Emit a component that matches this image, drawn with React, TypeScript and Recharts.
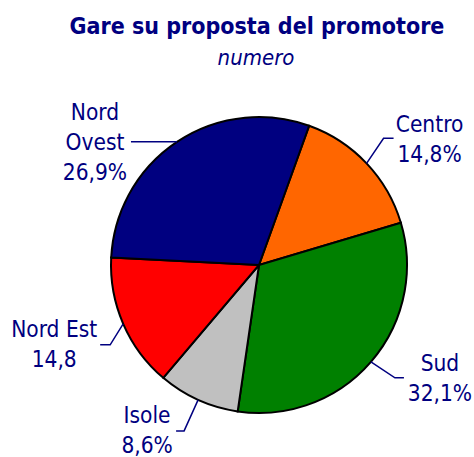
import { PieChart, Pie, Cell } from 'recharts'

// ── Data ─────────────────────────────────────────────────
const REGIONI = ['Centro', 'Sud', 'Isole', 'Nord Est', 'Nord Ovest']
const QUOTE = [14.9, 31.9, 8.9, 14.6, 29.7]
const ETICHETTE = ['14,8%', '32,1%', '8,6%', '14,8', '26,9%']

const COLORS = ['#ff6600', '#008000', '#c0c0c0', '#ff0000', '#000080']
const NAVY = '#000080'
const FONT = '"DejaVu Sans Condensed", "DejaVu Sans", sans-serif'

// label layout: elbow offset from slice edge, horizontal tail, text offset from edge
const LAYOUT: Record<string, { ex: number; ey: number; hx: number; tx: number; ty: number; lines?: string[] }> = {
  'Centro':     { ex: 17,  ey: -25, hx: 10,  tx: 63,  ty: -31 },
  'Sud':        { ex: 24,  ey: 16,  hx: 9,   tx: 69,  ty: 9 },
  'Isole':      { ex: -14, ey: 31,  hx: -8,  tx: -51, ty: 23 },
  'Nord Est':   { ex: -13, ey: 21,  hx: -10, tx: -69, ty: 13 },
  'Nord Ovest': { ex: 0,   ey: 0,   hx: -46, tx: -82, ty: -22, lines: ['Nord', 'Ovest'] },
}

const data = REGIONI.map((r, i) => ({ name: r, value: QUOTE[i], label: ETICHETTE[i] }))

const RAD = Math.PI / 180

function renderLabel(props: any) {
  const { cx, cy, midAngle, outerRadius, index } = props
  const d = data[index]
  const L = LAYOUT[d.name]
  const x0 = cx + outerRadius * Math.cos(-midAngle * RAD)
  const y0 = cy + outerRadius * Math.sin(-midAngle * RAD)
  const x1 = x0 + L.ex
  const y1 = y0 + L.ey
  const x2 = x1 + L.hx
  const lines = [...(L.lines ?? [d.name]), d.label]
  return (
    <g key={`lbl-${index}`}>
      <polyline points={`${x0},${y0} ${x1},${y1} ${x2},${y1}`} fill="none" stroke={NAVY} strokeWidth={1.5} />
      <text x={x0 + L.tx} y={y0 + L.ty} textAnchor="middle" fill={NAVY} fontSize={22.5} fontFamily={FONT}>
        {lines.map((t, k) => (
          <tspan key={k} x={x0 + L.tx} dy={k === 0 ? 0 : 30}>{t}</tspan>
        ))}
      </text>
    </g>
  )
}

export default function App() {
  return (
    <div style={{ position: 'absolute', left: 0, top: 0, width: 474, height: 457, background: '#fff' }}>
      <svg width={474} height={80} style={{ position: 'absolute', left: 0, top: 0 }}>
        <text x={257} y={34} textAnchor="middle" fill={NAVY} fontSize={23} fontWeight="bold" fontFamily={FONT}>
          Gare su proposta del promotore
        </text>
        <text x={256} y={65} textAnchor="middle" fill={NAVY} fontSize={22} fontStyle="italic" fontFamily={FONT}>
          numero
        </text>
      </svg>
      <div style={{ position: 'absolute', left: 0, top: 0 }}>
        <PieChart width={474} height={457} margin={{ top: 0, right: 0, bottom: 0, left: 0 }}>
          <Pie
            data={data}
            dataKey="value"
            cx={259}
            cy={265}
            outerRadius={148}
            startAngle={70.2}
            endAngle={-289.8}
            stroke="#000"
            strokeWidth={2}
            label={renderLabel}
            labelLine={false}
            isAnimationActive={false}
          >
            {data.map((d, i) => (
              <Cell key={d.name} fill={COLORS[i]} />
            ))}
          </Pie>
        </PieChart>
      </div>
    </div>
  )
}
